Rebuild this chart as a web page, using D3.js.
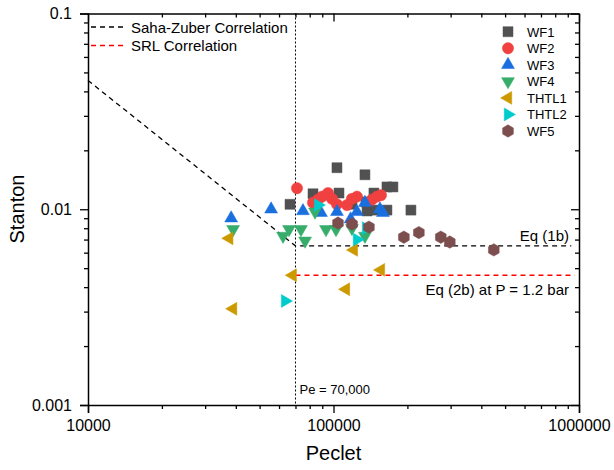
<!DOCTYPE html>
<html>
<head>
<meta charset="utf-8">
<script src="https://cdn.jsdelivr.net/npm/d3@7"></script>
<style>
  body { margin: 0; background: #fff; }
  svg { font-family: "Liberation Sans", Arial, sans-serif; }
</style>
</head>
<body>
<svg id="chart" width="614" height="470"></svg>
<script>
// series data: Peclet and Stanton pairs
const wf1Pe = [66500, 82500, 103300, 105300, 134300, 165100, 174600, 146100, 165100, 206700, 135600, 118900, 137000, 148000];
const wf1St = [0.0106, 0.0120, 0.0163, 0.0121, 0.0150, 0.0130, 0.0130, 0.0121, 0.0099, 0.0099, 0.0109, 0.0106, 0.0098, 0.0099];
const wf2Pe = [71000, 82500, 86500, 89800, 95000, 98600, 103300, 113500, 118900, 124600, 143400, 150300, 156100];
const wf2St = [0.0128, 0.0108, 0.0112, 0.0116, 0.0121, 0.0113, 0.0106, 0.0105, 0.0113, 0.0116, 0.0112, 0.0116, 0.0118];
const wf3Pe = [38300, 55700, 75100, 88900, 103300, 117400, 124600, 134300, 154600, 159000];
const wf3St = [0.0090, 0.0100, 0.0098, 0.0096, 0.0097, 0.0089, 0.0097, 0.0108, 0.0100, 0.0096];
const wf4Pe = [39000, 62300, 65900, 73700, 76600, 84100, 93200, 102400, 118900, 134300];
const wf4St = [0.0079, 0.0073, 0.0079, 0.0079, 0.0069, 0.0097, 0.0079, 0.0079, 0.0080, 0.0073];
const thtl1Pe = [37600, 39000, 68200, 121000, 156000, 112400];
const thtl1St = [0.0071, 0.0031, 0.0046, 0.0062, 0.0049, 0.0039];
const thtl2Pe = [63500, 86500, 124600, 135600];
const thtl2St = [0.0034, 0.0105, 0.0070, 0.0080];
const wf5Pe = [104300, 119000, 139400, 193500, 222700, 273600, 297700, 449700];
const wf5St = [0.0085, 0.0084, 0.0081, 0.0072, 0.0076, 0.0072, 0.0068, 0.0062];

// correlation lines
const sahaPe = [10000, 70000, 930000];
const sahaSt = [0.0455, 0.0065, 0.0065];
const srlPe = [70000, 960000];
const srlSt = [0.0046, 0.0046];
const peLimit = 70000;

const xTicks = [10000, 100000, 1000000];
const yTicks = [0.001, 0.01, 0.1];

const series = [
  { name: "WF1", pe: wf1Pe, st: wf1St, color: "#515151", shape: "square" },
  { name: "WF2", pe: wf2Pe, st: wf2St, color: "#F14040", shape: "circle" },
  { name: "WF3", pe: wf3Pe, st: wf3St, color: "#1A6FDF", shape: "up" },
  { name: "WF4", pe: wf4Pe, st: wf4St, color: "#37AD6B", shape: "down" },
  { name: "THTL1", pe: thtl1Pe, st: thtl1St, color: "#CC9900", shape: "left" },
  { name: "THTL2", pe: thtl2Pe, st: thtl2St, color: "#00CBCC", shape: "right" },
  { name: "WF5", pe: wf5Pe, st: wf5St, color: "#7D4E4E", shape: "hex" },
];

const svg = d3.select("#chart");
const plotLeft = 88, plotRight = 579, plotTop = 13.5, plotBottom = 405;

const x = d3.scaleLog().domain([1e4, 1e6]).range([plotLeft, plotRight]);
const y = d3.scaleLog().domain([0.001, 0.1]).range([plotBottom, plotTop]);

function minorTicks(lo, hi) {
  const out = [];
  for (let d = lo; d < hi; d *= 10) {
    for (let k = 2; k <= 9; k++) out.push(d * k);
  }
  return out;
}
const xMinor = minorTicks(1e4, 1e6);
const yMinor = minorTicks(0.001, 0.1);

const hexPath = (() => {
  const r = 6.2;
  const pts = d3.range(6).map(i => {
    const a = Math.PI / 6 + i * Math.PI / 3;
    return [r * Math.cos(a), r * Math.sin(a)];
  });
  return "M" + pts.map(p => p.join(",")).join("L") + "Z";
})();

function symbolPath(shape) {
  switch (shape) {
    case "square": return d3.symbol(d3.symbolSquare, 100)();
    case "circle": return d3.symbol(d3.symbolCircle, 100)();
    case "hex": return hexPath;
    default: return d3.symbol(d3.symbolTriangle, 72)();
  }
}
function symbolRotate(shape) {
  return { down: 180, left: -90, right: 90 }[shape] || 0;
}

// correlation lines
const line = d3.line().x(d => x(d[0])).y(d => y(d[1]));
svg.append("path")
  .attr("d", line(d3.zip(sahaPe, sahaSt)))
  .attr("fill", "none").attr("stroke", "#000").attr("stroke-width", 1.3)
  .attr("stroke-dasharray", "5,4");
svg.append("path")
  .attr("d", line(d3.zip(srlPe, srlSt)))
  .attr("fill", "none").attr("stroke", "#ff0000").attr("stroke-width", 1.3)
  .attr("stroke-dasharray", "5,4");
svg.append("line")
  .attr("x1", x(peLimit)).attr("x2", x(peLimit))
  .attr("y1", plotTop).attr("y2", plotBottom)
  .attr("stroke", "#000").attr("stroke-width", 1)
  .attr("stroke-dasharray", "2,2");

// markers
series.forEach(s => {
  svg.append("g").selectAll("path")
    .data(d3.zip(s.pe, s.st))
    .join("path")
    .attr("d", symbolPath(s.shape))
    .attr("transform", d => `translate(${x(d[0])},${y(d[1])}) rotate(${symbolRotate(s.shape)})`)
    .attr("fill", s.color)
    .attr("stroke", s.color)
    .attr("stroke-width", 0.5);
});

// axes
function styleAxis(g) {
  g.select(".domain").attr("stroke-width", 1.5);
  g.selectAll(".tick line").attr("stroke-width", 1.3);
  g.selectAll("text").attr("font-size", 16).attr("fill", "#000")
    .attr("font-family", "'Liberation Sans', Arial, sans-serif");
}
function noDomain(g) { g.select(".domain").remove(); }

svg.append("g").attr("transform", `translate(0,${plotBottom})`)
  .call(d3.axisBottom(x).tickValues(xTicks).tickFormat(d3.format("d")).tickSize(8).tickPadding(7))
  .call(styleAxis);
svg.append("g").attr("transform", `translate(0,${plotBottom})`)
  .call(d3.axisBottom(x).tickValues(xMinor).tickFormat("").tickSize(4))
  .call(noDomain).call(styleAxis);
svg.append("g").attr("transform", `translate(${plotLeft},0)`)
  .call(d3.axisLeft(y).tickValues(yTicks).tickFormat(d => String(d)).tickSize(8).tickPadding(8))
  .call(styleAxis);
svg.append("g").attr("transform", `translate(${plotLeft},0)`)
  .call(d3.axisLeft(y).tickValues(yMinor).tickFormat("").tickSize(4))
  .call(noDomain).call(styleAxis);
// top and right frame: ticks point inward
svg.append("g").attr("transform", `translate(0,${plotTop})`)
  .call(d3.axisTop(x).tickValues(xTicks).tickFormat("").tickSize(-8).tickSizeOuter(0))
  .call(styleAxis);
svg.append("g").attr("transform", `translate(0,${plotTop})`)
  .call(d3.axisTop(x).tickValues(xMinor).tickFormat("").tickSize(-4))
  .call(noDomain).call(styleAxis);
svg.append("g").attr("transform", `translate(${plotRight},0)`)
  .call(d3.axisRight(y).tickValues(yTicks).tickFormat("").tickSize(-8).tickSizeOuter(0))
  .call(styleAxis);
svg.append("g").attr("transform", `translate(${plotRight},0)`)
  .call(d3.axisRight(y).tickValues(yMinor).tickFormat("").tickSize(-4))
  .call(noDomain).call(styleAxis);

// axis titles
svg.append("text").attr("x", (plotLeft + plotRight) / 2).attr("y", 460)
  .attr("text-anchor", "middle").attr("font-size", 20).text("Peclet");
svg.append("text").attr("transform", "translate(24,209) rotate(-90)")
  .attr("text-anchor", "middle").attr("font-size", 20).text("Stanton");

// annotations
svg.append("text").attr("x", 569).attr("y", 241).attr("text-anchor", "end")
  .attr("font-size", 15).text("Eq (1b)");
svg.append("text").attr("x", 569).attr("y", 295).attr("text-anchor", "end")
  .attr("font-size", 15).text("Eq (2b) at P = 1.2 bar");
svg.append("text").attr("x", x(peLimit) + 4).attr("y", 394)
  .attr("font-size", 13).text("Pe = 70,000");

// line legend
const lineLegend = [
  { label: "Saha-Zuber Correlation", color: "#000" },
  { label: "SRL Correlation", color: "#ff0000" },
];
lineLegend.forEach((d, i) => {
  const yy = 27 + i * 18.5;
  svg.append("line").attr("x1", 91).attr("x2", 126).attr("y1", yy).attr("y2", yy)
    .attr("stroke", d.color).attr("stroke-width", 1.3).attr("stroke-dasharray", "5,4");
  svg.append("text").attr("x", 131).attr("y", yy + 5.5).attr("font-size", 15).text(d.label);
});

// marker legend
series.forEach((s, i) => {
  const yy = 31.7 + i * 16.55;
  svg.append("path").attr("d", symbolPath(s.shape))
    .attr("transform", `translate(508,${yy}) rotate(${symbolRotate(s.shape)})`)
    .attr("fill", s.color).attr("stroke", s.color).attr("stroke-width", 0.5);
  svg.append("text").attr("x", 527).attr("y", yy + 4.8).attr("font-size", 13).text(s.name);
});
</script>
</body>
</html>
